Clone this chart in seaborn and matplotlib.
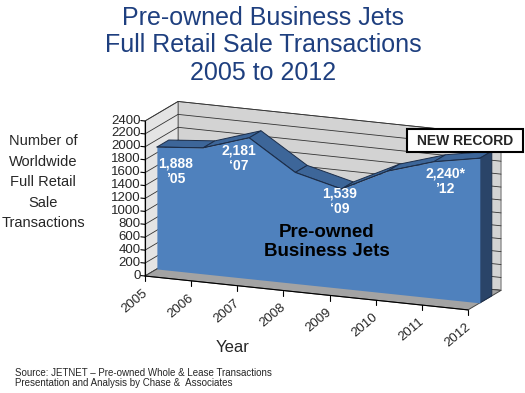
import numpy as np
import matplotlib
matplotlib.use("Agg")
import matplotlib.pyplot as plt
import matplotlib.transforms as mtransforms
from matplotlib.patches import Polygon, Rectangle
import seaborn as sns

# data
years = np.array([2005, 2006, 2007, 2008, 2009, 2010, 2011, 2012])
transactions = np.array([1888, 1950, 2181, 1720, 1539, 1890, 2110, 2240])
y_ticks = np.arange(0, 2401, 200)
callouts = ["1,888\n\u201905", "2,181\n\u201807", "1,539\n\u201809", "2,240*\n\u201912"]
callout_pos = [(176, 171), (239, 158), (340, 201), (445, 181)]
title_lines = ["Pre-owned Business Jets", "Full Retail Sale Transactions", "2005 to 2012"]
ylabel_lines = ["Number of", "Worldwide", "Full Retail", "Sale", "Transactions"]

sns.set_style("white")
plt.rcParams["font.family"] = ["Liberation Sans", "DejaVu Sans"]

W, H = 525, 393
fig = plt.figure(figsize=(W / 100, H / 100), dpi=100)


def px(x, y):
    return x / W, 1 - y / H


# axes placed so that the front plane matches the picture
ax = fig.add_axes([145 / W, (H - 276) / H, 323 / W, 155 / H])
ax.set_xlim(2005, 2012)
ax.set_ylim(0, 2400)
ax.axis("off")

# fake perspective: floor slants down to the right, depth goes up-right
K = 75.0      # value units per year of slant
DX, DY = 0.716, 356.0
slant = mtransforms.Affine2D(np.array([[1, 0, 0], [-K, 1, K * 2005], [0, 0, 1]]))
TS = slant + ax.transData


def proj(x, y, d):
    return (x + d * DX, y + d * DY)


def poly(pts, **kw):
    p = Polygon(pts, closed=True, transform=TS, clip_on=False, **kw)
    ax.add_patch(p)


x0, x1, ymax = years[0], years[-1], y_ticks[-1]

# back wall + gridlines
poly([proj(x0, 0, 1), proj(x1, 0, 1), proj(x1, ymax, 1), proj(x0, ymax, 1)],
     facecolor="#d3d3d3", edgecolor="#555555", lw=0.6, zorder=1)
# left wall
poly([proj(x0, 0, 0), proj(x0, 0, 1), proj(x0, ymax, 1), proj(x0, ymax, 0)],
     facecolor="#e4e4e4", edgecolor="#555555", lw=0.6, zorder=1)
for v in y_ticks:
    a, b = proj(x0, v, 1), proj(x1, v, 1)
    ax.plot([a[0], b[0]], [a[1], b[1]], color="#333333", lw=0.6, transform=TS, clip_on=False, zorder=2)
    a, b = proj(x0, v, 0), proj(x0, v, 1)
    ax.plot([a[0], b[0]], [a[1], b[1]], color="#333333", lw=0.6, transform=TS, clip_on=False, zorder=2)

# floor
poly([proj(x0, 0, 0), proj(x1, 0, 0), proj(x1, 0, 1), proj(x0, 0, 1)],
     facecolor="#a3a3a3", edgecolor="#444444", lw=0.7, zorder=2)

# area series
a0, a1 = 0.36, 0.72
for i in range(len(years) - 1):
    xa, xb = years[i], years[i + 1]
    ya, yb = transactions[i], transactions[i + 1]
    poly([proj(xa, ya, a0), proj(xb, yb, a0), proj(xb, yb, a1), proj(xa, ya, a1)],
         facecolor="#3d6699", edgecolor="#1c2e4a", lw=0.7, zorder=3)
poly([proj(x1, 0, a0), proj(x1, transactions[-1], a0), proj(x1, transactions[-1], a1), proj(x1, 0, a1)],
     facecolor="#2a4468", edgecolor="#1c2e4a", lw=0.7, zorder=3)
ax.fill_between(years + a0 * DX, transactions + a0 * DY, a0 * DY,
                color="#4f81bd", transform=TS, clip_on=False, zorder=4, lw=0)
sns.lineplot(x=years + a0 * DX, y=transactions + a0 * DY, ax=ax, color="#1c2e4a",
             lw=0.8, transform=TS, clip_on=False, zorder=5)
ax.set_xlim(2005, 2012)
ax.set_ylim(0, 2400)
ax.axis("off")

# y axis
ax.plot([x0, x0], [0, ymax], color="black", lw=0.8, transform=TS, clip_on=False, zorder=6)
for v in y_ticks:
    ax.plot([x0 - 0.09, x0], [v, v], color="black", lw=0.8, transform=TS, clip_on=False, zorder=6)
    ax.text(x0 - 0.1, v, str(v), ha="right", va="center", fontsize=9.5,
            transform=TS, clip_on=False)

# x axis
ax.plot([x0, x1], [0, 0], color="black", lw=0.8, transform=TS, clip_on=False, zorder=6)
for yr in years:
    ax.plot([yr, yr], [0, -80], color="black", lw=0.8, transform=TS, clip_on=False, zorder=6)
    tr = mtransforms.offset_copy(TS, fig=fig, x=-3, y=-11, units="dots")
    ax.text(yr, 0, str(yr), ha="right", va="top", rotation=40, rotation_mode="anchor",
            fontsize=9.5, transform=tr)

# labels on the area
for txt, (cx, cy) in zip(callouts, callout_pos):
    fig.text(*px(cx, cy), txt, ha="center", va="center", fontsize=10, fontweight="bold",
             color="white", linespacing=1.15, zorder=10)
fig.text(*px(327, 242), "Pre-owned\nBusiness Jets", ha="center", va="center", fontsize=13.5,
         fontweight="bold", color="black", linespacing=1.1, zorder=10)

# NEW RECORD box
fig.patches.append(Rectangle(px(407, 152), 116 / W, 23 / H, transform=fig.transFigure,
                             facecolor="white", edgecolor="black", lw=1.5, zorder=10))
fig.text(*px(465, 141), "NEW RECORD", ha="center", va="center", fontsize=10,
         fontweight="bold", zorder=11)

# titles and captions
for line, yy in zip(title_lines, [18, 45.5, 73]):
    fig.text(*px(263, yy), line, ha="center", va="center", fontsize=18, color="#1e3f7f")
for line, yy in zip(ylabel_lines, [141, 161.5, 182, 203, 223]):
    fig.text(*px(43, yy), line, ha="center", va="center", fontsize=10.5)
fig.text(*px(233, 348), "Year", ha="center", va="center", fontsize=12)
fig.text(*px(15, 373), "Source: JETNET \u2013 Pre-owned Whole & Lease Transactions",
         ha="left", va="center", fontsize=7)
fig.text(*px(15, 383), "Presentation and Analysis by Chase &  Associates",
         ha="left", va="center", fontsize=7)

fig.savefig("out.png", dpi=100)
